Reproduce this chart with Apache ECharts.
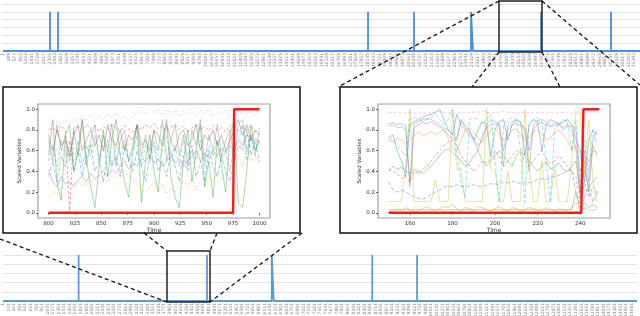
<!DOCTYPE html>
<html>
<head>
<meta charset="utf-8">
<script src="https://cdn.jsdelivr.net/npm/echarts@6.0.0/dist/echarts.min.js"></script>
<style>
    html, body { margin: 0; padding: 0; background: #fff; }
    #chart { width: 640px; height: 316px; }
</style>
</head>
<body>
<div id="chart"></div>
<script>
/**
 * 条带图 数据 (0/1 事件, 按索引区间给出)
 */
const topCount = 31680;
const topLabelStep = 288;
const topEvents = [[2337, 2337], [2735, 2735], [18153, 18153], [20440, 20440], [23275, 23374], [26757, 26757], [30238, 30238]];

const bottomCount = 14820;
const bottomLabelStep = 130;
const bottomEvents = [[1768, 1768], [4769, 4769], [6282, 6328], [8631, 8631], [9678, 9678]];

/**
 * 左侧放大图 数据 (Time 800-1000)
 */
const leftTime = [800, 804, 808, 812, 816, 820, 824, 828, 832, 836, 840, 844, 848, 852, 856, 860, 864, 868, 872, 876, 880, 884, 888, 892, 896, 900, 904, 908, 912, 916, 920, 924, 928, 932, 936, 940, 944, 948, 952, 956, 960, 964, 968, 972, 976, 980, 984, 988, 992, 996, 1000];
const leftPink = [0.85, 0.86, 0.88, 0.86, 0.9, 0.87, 0.92, 0.88, 0.93, 0.9, 0.95, 0.91, 0.94, 0.9, 0.95, 0.92, 0.96, 0.91, 0.93, 0.89, 0.94, 0.96, 0.99, 0.95, 1.0, 0.96, 0.99, 0.94, 1.0, 0.95, 0.99, 0.93, 0.98, 0.95, 1.0, 0.94, 0.99, 0.96, 1.0, 0.93, 0.98, 0.95, 0.99, 0.92, 0.97, 0.94, 0.98, 0.95, 0.97, 0.93, 0.96];
const leftRed = [0.8, 0.82, 0.78, 0.84, 0.8, 0.0, 0.82, 0.83, 0.79, 0.85, 0.81, 0.84, 0.78, 0.83, 0.8, 0.86, 0.82, 0.79, 0.84, 0.81, 0.78, 0.83, 0.8, 0.85, 0.82, 0.86, 0.81, 0.84, 0.79, 0.83, 0.85, 0.8, 0.84, 0.78, 0.82, 0.85, 0.8, 0.83, 0.79, 0.84, 0.8, 0.82, 0.78, 0.85, 0.81, 0.79, 0.83, 0.8, 0.84, 0.78, 0.82];
const leftGreen = [0.55, 0.9, 0.3, 0.12, 0.75, 0.85, 0.4, 0.6, 0.9, 0.5, 0.25, 0.05, 0.45, 0.8, 0.35, 0.7, 0.9, 0.55, 0.3, 0.15, 0.6, 0.85, 0.1, 0.5, 0.75, 0.4, 0.2, 0.7, 0.9, 0.35, 0.15, 0.05, 0.5, 0.8, 0.3, 0.6, 0.85, 0.25, 0.5, 0.15, 0.7, 0.45, 0.2, 0.75, 0.9, 0.1, 0.05, 0.4, 0.85, 0.6, 0.7];
const leftGray = [0.7, 0.5, 0.85, 0.6, 0.75, 0.5, 0.8, 0.55, 0.9, 0.45, 0.7, 0.85, 0.5, 0.75, 0.6, 0.85, 0.45, 0.7, 0.8, 0.5, 0.65, 0.85, 0.55, 0.75, 0.5, 0.8, 0.6, 0.9, 0.5, 0.7, 0.85, 0.55, 0.75, 0.45, 0.8, 0.65, 0.9, 0.5, 0.75, 0.6, 0.85, 0.55, 0.7, 0.8, 0.5, 0.85, 0.9, 0.6, 0.75, 0.55, 0.8];
const leftOlive = [0.6, 0.58, 0.62, 0.55, 0.6, 0.63, 0.58, 0.62, 0.64, 0.63, 0.65, 0.64, 0.65, 0.64, 0.66, 0.65, 0.66, 0.67, 0.65, 0.66, 0.64, 0.65, 0.63, 0.64, 0.62, 0.63, 0.61, 0.62, 0.6, 0.61, 0.6, 0.59, 0.58, 0.59, 0.57, 0.58, 0.56, 0.57, 0.55, 0.56, 0.54, 0.52, 0.55, 0.5, 0.53, 0.6, 0.7, 0.75, 0.72, 0.7, 0.68];
const leftBlue = [0.35, 0.5, 0.3, 0.55, 0.45, 0.7, 0.4, 0.6, 0.35, 0.55, 0.65, 0.4, 0.5, 0.3, 0.6, 0.45, 0.55, 0.35, 0.65, 0.5, 0.4, 0.6, 0.45, 0.3, 0.55, 0.65, 0.4, 0.5, 0.35, 0.6, 0.45, 0.3, 0.55, 0.4, 0.65, 0.35, 0.5, 0.3, 0.6, 0.45, 0.35, 0.55, 0.4, 0.3, 0.5, 0.65, 0.6, 0.8, 0.55, 0.7, 0.5];
const leftOrange = [0.15, 0.2, 0.18, 0.25, 0.22, 0.28, 0.25, 0.3, 0.27, 0.26, 0.3, 0.32, 0.28, 0.33, 0.3, 0.35, 0.33, 0.38, 0.4, 0.36, 0.33, 0.28, 0.22, 0.2, 0.25, 0.3, 0.22, 0.27, 0.18, 0.24, 0.2, 0.28, 0.3, 0.25, 0.32, 0.22, 0.3, 0.26, 0.35, 0.3, 0.38, 0.33, 0.4, 0.45, 0.5, 0.55, 0.45, 0.6, 0.5, 0.55, 0.48];
const leftPurple = [0.42, 0.3, 0.25, 0.35, 0.28, 0.3, 0.26, 0.32, 0.35, 0.3, 0.38, 0.33, 0.36, 0.4, 0.35, 0.42, 0.38, 0.45, 0.5, 0.42, 0.48, 0.45, 0.52, 0.5, 0.55, 0.48, 0.52, 0.45, 0.5, 0.55, 0.48, 0.52, 0.45, 0.5, 0.55, 0.6, 0.5, 0.58, 0.52, 0.6, 0.55, 0.62, 0.58, 0.65, 0.6, 0.7, 0.65, 0.75, 0.7, 0.72, 0.68];
const leftCyan = [0.5, 0.65, 0.45, 0.7, 0.55, 0.6, 0.5, 0.7, 0.45, 0.65, 0.55, 0.75, 0.5, 0.6, 0.7, 0.45, 0.65, 0.55, 0.7, 0.5, 0.6, 0.75, 0.45, 0.65, 0.55, 0.7, 0.5, 0.6, 0.75, 0.5, 0.65, 0.45, 0.7, 0.55, 0.6, 0.5, 0.7, 0.45, 0.65, 0.55, 0.7, 0.5, 0.6, 0.4, 0.65, 0.7, 0.85, 0.5, 0.75, 0.6, 0.7];
const leftBrown = [0.75, 0.6, 0.8, 0.65, 0.7, 0.55, 0.75, 0.85, 0.6, 0.7, 0.8, 0.65, 0.75, 0.6, 0.85, 0.7, 0.65, 0.8, 0.6, 0.75, 0.7, 0.85, 0.65, 0.7, 0.6, 0.8, 0.75, 0.65, 0.85, 0.7, 0.6, 0.75, 0.8, 0.65, 0.7, 0.85, 0.6, 0.75, 0.7, 0.8, 0.65, 0.75, 0.6, 0.7, 0.8, 0.9, 0.75, 0.85, 0.7, 0.8, 0.75];
const leftLabelTime = [800, 975, 976, 1000];
const leftLabel = [0, 0, 1, 1];

/**
 * 右侧放大图 数据 (Time 150-249)
 */
const rightTime = [150, 152, 154, 156, 158, 160, 162, 164, 166, 168, 170, 172, 174, 176, 178, 180, 182, 184, 186, 188, 190, 192, 194, 196, 198, 200, 202, 204, 206, 208, 210, 212, 214, 216, 218, 220, 222, 224, 226, 228, 230, 232, 234, 236, 238, 240, 242, 244, 246, 248];
const rightPink = [0.97, 0.97, 0.97, 0.96, 0.97, 0.97, 0.96, 0.97, 0.97, 0.97, 0.96, 0.97, 0.98, 0.97, 0.97, 0.96, 0.97, 0.97, 0.96, 0.97, 0.97, 0.97, 0.98, 0.97, 0.96, 0.97, 0.97, 0.98, 0.97, 0.97, 0.96, 0.97, 0.97, 0.97, 0.96, 0.97, 0.97, 0.97, 0.97, 0.96, 0.97, 0.97, 0.97, 0.96, 0.96, 0.96, 0.97, 0.96, 0.96, 0.96];
const rightBlue = [0.73, 0.75, 0.6, 0.5, 0.35, 0.85, 0.88, 0.9, 0.92, 0.94, 0.95, 0.97, 1.0, 0.9, 0.8, 0.75, 0.95, 0.85, 0.8, 0.75, 0.7, 0.8, 0.88, 0.85, 0.55, 0.8, 0.88, 0.9, 0.7, 0.85, 0.9, 0.88, 0.55, 0.85, 0.9, 0.88, 0.6, 0.85, 0.9, 0.88, 0.85, 0.88, 0.9, 0.85, 0.7, 0.6, 0.3, 0.7, 0.8, 0.75];
const rightPurple = [0.86, 0.87, 0.85, 0.86, 0.84, 0.3, 0.82, 0.85, 0.87, 0.86, 0.88, 0.85, 0.83, 0.8, 0.75, 0.72, 0.7, 0.88, 0.85, 0.8, 0.7, 0.6, 0.75, 0.82, 0.85, 0.86, 0.84, 0.6, 0.8, 0.85, 0.86, 0.84, 0.82, 0.6, 0.8, 0.86, 0.87, 0.85, 0.83, 0.84, 0.85, 0.8, 0.83, 0.84, 0.82, 0.2, 0.6, 0.3, 0.7, 0.8];
const rightGray = [0.84, 0.85, 0.82, 0.83, 0.8, 0.25, 0.86, 0.88, 0.9, 0.91, 0.9, 0.88, 0.85, 0.82, 0.8, 0.76, 0.72, 0.9, 0.82, 0.78, 0.72, 0.65, 0.7, 0.85, 0.9, 0.88, 0.86, 0.45, 0.84, 0.88, 0.89, 0.87, 0.8, 0.4, 0.85, 0.89, 0.9, 0.88, 0.84, 0.86, 0.87, 0.82, 0.85, 0.8, 0.6, 0.15, 0.5, 0.2, 0.65, 0.55];
const rightOrange = [0.7, 0.68, 0.72, 0.7, 0.66, 0.7, 0.75, 0.78, 0.74, 0.76, 0.78, 0.75, 0.78, 0.8, 0.72, 0.62, 0.6, 0.7, 0.8, 0.82, 0.78, 0.72, 0.68, 0.74, 0.8, 0.82, 0.76, 0.7, 0.74, 0.8, 0.81, 0.76, 0.7, 0.72, 0.78, 0.8, 0.76, 0.7, 0.72, 0.78, 0.8, 0.75, 0.7, 0.6, 0.65, 0.4, 0.55, 0.5, 0.6, 0.58];
const rightRed = [0.42, 0.4, 0.38, 0.33, 0.35, 0.3, 0.4, 0.38, 0.42, 0.45, 0.5, 0.55, 0.6, 0.65, 0.68, 0.7, 0.65, 0.55, 0.5, 0.45, 0.4, 0.45, 0.5, 0.48, 0.52, 0.6, 0.55, 0.45, 0.5, 0.55, 0.6, 0.58, 0.5, 0.45, 0.5, 0.55, 0.6, 0.52, 0.48, 0.5, 0.55, 0.5, 0.45, 0.4, 0.35, 0.1, 0.3, 0.15, 0.25, 0.2];
const rightGreen = [0.4, 0.45, 0.42, 0.44, 0.4, 0.38, 0.42, 0.4, 0.38, 0.42, 0.45, 0.5, 0.55, 0.6, 0.62, 0.58, 0.55, 0.5, 0.45, 0.48, 0.55, 0.6, 0.5, 0.45, 0.5, 0.55, 0.6, 0.55, 0.5, 0.45, 0.55, 0.6, 0.55, 0.5, 0.45, 0.4, 0.45, 0.5, 0.42, 0.45, 0.48, 0.42, 0.4, 0.45, 0.5, 0.2, 0.4, 0.25, 0.3, 0.35];
const rightOlive = [0.11, 0.11, 0.11, 0.11, 0.45, 1.0, 0.11, 0.11, 0.11, 0.11, 0.11, 0.32, 0.11, 0.11, 0.11, 1.0, 0.42, 0.42, 0.11, 0.11, 0.11, 0.11, 0.11, 1.0, 0.42, 0.4, 0.11, 0.11, 0.4, 0.11, 0.11, 0.11, 1.0, 0.45, 0.11, 0.11, 0.5, 0.11, 0.11, 0.45, 0.11, 0.11, 0.11, 0.5, 1.0, 0.95, 0.4, 0.9, 0.3, 0.1];
const rightBlueLow = [0.3, 0.22, 0.2, 0.22, 0.2, 0.18, 0.15, 0.14, 0.13, 0.15, 0.18, 0.2, 0.22, 0.25, 0.26, 0.25, 0.27, 0.26, 0.25, 0.26, 0.27, 0.26, 0.25, 0.27, 0.28, 0.28, 0.27, 0.3, 0.29, 0.3, 0.3, 0.28, 0.3, 0.29, 0.3, 0.32, 0.33, 0.32, 0.34, 0.35, 0.36, 0.38, 0.4, 0.42, 0.2, 0.05, 0.15, 0.25, 0.1, 0.2];
const rightTeal = [0.03, 0.03, 0.025, 0.03, 0.03, 0.025, 0.03, 0.03, 0.03, 0.025, 0.03, 0.03, 0.03, 0.025, 0.03, 0.03, 0.03, 0.025, 0.03, 0.03, 0.025, 0.03, 0.03, 0.03, 0.025, 0.03, 0.03, 0.03, 0.025, 0.03, 0.03, 0.03, 0.025, 0.03, 0.03, 0.03, 0.025, 0.03, 0.03, 0.03, 0.025, 0.03, 0.03, 0.03, 0.2, 0.05, 0.1, 0.05, 0.08, 0.05];
const rightOrangeLow = [0.01, 0.02, 0.04, 0.02, 0.05, 0.03, 0.01, 0.02, 0.04, 0.06, 0.03, 0.02, 0.04, 0.06, 0.05, 0.08, 0.04, 0.02, 0.05, 0.04, 0.02, 0.06, 0.05, 0.03, 0.02, 0.04, 0.06, 0.03, 0.02, 0.05, 0.04, 0.02, 0.03, 0.05, 0.04, 0.02, 0.03, 0.05, 0.03, 0.02, 0.04, 0.03, 0.02, 0.05, 0.1, 0.02, 0.05, 0.03, 0.02, 0.04];
const rightCyan = [0.72, 0.7, 0.65, 0.6, 0.55, 0.9, 0.92, 0.9, 0.88, 0.9, 0.92, 0.95, 0.9, 0.85, 0.9, 1.0, 0.6, 0.3, 0.15, 0.9, 0.92, 0.9, 0.85, 0.9, 0.95, 0.5, 0.1, 0.85, 0.9, 0.92, 0.9, 0.6, 0.1, 0.85, 0.9, 0.92, 0.88, 0.5, 0.1, 0.8, 0.85, 0.9, 0.88, 0.6, 0.9, 0.3, 0.7, 0.4, 0.8, 0.65];
const rightLabelTime = [150, 240.5, 241.5, 249];
const rightLabel = [0, 0, 1, 1];

const leftTicks = [800, 825, 850, 875, 900, 925, 950, 975, 1000];
const rightTicks = [160, 180, 200, 220, 240];
const yTicks = [0, 0.2, 0.4, 0.6, 0.8, 1.0];

const FONT = 'DejaVu Sans';

/**
 * 条带图: 类目 1..count, 事件区间 -> 折线拐点 [类目索引, 值]
 */
function buildStrip(count, events) {
    const cats = [];
    for (let i = 0; i < count; i++) {
        cats.push(String(i + 1));
    }
    const points = [[0, 0]];
    events.forEach(ev => {
        points.push([ev[0], 0], [ev[0], 1], [ev[1], 1], [ev[1], 0]);
    });
    points.push([count - 1, 0]);
    return { cats, points };
}
const topStrip = buildStrip(topCount, topEvents);
const bottomStrip = buildStrip(bottomCount, bottomEvents);

function stripX(gridIndex, cats, step) {
    return {
        type: 'category',
        gridIndex: gridIndex,
        data: cats,
        boundaryGap: false,
        axisLine: { show: false },
        axisTick: { show: false },
        splitLine: { show: false },
        axisLabel: {
            interval: step - 1,
            rotate: 90,
            fontSize: 4.5,
            color: '#8c8c8c',
            margin: 2,
            fontFamily: FONT
        }
    };
}
function stripY(gridIndex, max) {
    return {
        type: 'value',
        gridIndex: gridIndex,
        min: 0,
        max: max,
        interval: 0.2,
        axisLabel: { show: false },
        axisLine: { show: false },
        axisTick: { show: false },
        splitLine: { lineStyle: { color: '#e4e4e4', width: 1 } }
    };
}
function stripSeries(axisIndex, points, color) {
    return {
        type: 'line',
        xAxisIndex: axisIndex,
        yAxisIndex: axisIndex,
        data: points,
        showSymbol: false,
        silent: true,
        lineStyle: { color: color, width: 1.8, join: 'bevel', cap: 'butt' }
    };
}

function insetX(gridIndex, min, max, ticks) {
    return {
        type: 'value',
        gridIndex: gridIndex,
        min: min,
        max: max,
        axisLine: { show: false },
        splitLine: { show: false },
        axisTick: { show: true, customValues: ticks, length: 2, lineStyle: { color: '#444', width: 0.8 } },
        axisLabel: {
            customValues: ticks, fontSize: 5.5, color: '#333', margin: 3, fontFamily: FONT,
            formatter: v => String(v)
        },
        name: 'Time',
        nameLocation: 'middle',
        nameGap: 9,
        nameTextStyle: { fontSize: 6, color: '#333', fontFamily: FONT }
    };
}
function insetY(gridIndex) {
    return {
        type: 'value',
        gridIndex: gridIndex,
        min: -0.05,
        max: 1.05,
        axisLine: { show: false },
        splitLine: { show: false },
        axisTick: { show: true, customValues: yTicks, length: 2, lineStyle: { color: '#444', width: 0.8 } },
        axisLabel: {
            customValues: yTicks, fontSize: 5.5, color: '#333', margin: 3, fontFamily: FONT,
            formatter: v => v.toFixed(1)
        },
        name: 'Scaled Variables',
        nameLocation: 'middle',
        nameGap: 15,
        nameTextStyle: { fontSize: 5.5, color: '#333', fontFamily: FONT }
    };
}

function thin(axisIndex, times, values, color, dash) {
    return {
        type: 'line',
        xAxisIndex: axisIndex,
        yAxisIndex: axisIndex,
        data: times.map((t, i) => [t, values[i]]),
        showSymbol: false,
        silent: true,
        lineStyle: { color: color, width: 0.8, opacity: 0.5, type: dash || 'solid' },
        z: 3
    };
}
function labelLine(axisIndex, times, values) {
    return {
        type: 'line',
        xAxisIndex: axisIndex,
        yAxisIndex: axisIndex,
        data: times.map((t, i) => [t, values[i]]),
        showSymbol: false,
        silent: true,
        lineStyle: { color: '#ff1a1a', width: 2.4 },
        z: 5
    };
}

const dashStyle = { stroke: '#111', lineWidth: 1.3, lineDash: [4, 3] };
function dashLine(x1, y1, x2, y2) {
    return { type: 'line', z: 100, silent: true, shape: { x1, y1, x2, y2 }, style: dashStyle };
}
function box(x, y, w, h, color) {
    return { type: 'rect', z: 100, silent: true, shape: { x: x, y: y, width: w, height: h }, style: { fill: 'none', stroke: color, lineWidth: 1.5 } };
}

const option = {
    animation: false,
    backgroundColor: '#fff',
    grid: [
        { left: 3, top: 4, width: 637, height: 47, outerBoundsMode: 'none' },
        { left: 38, top: 104, width: 232, height: 114, show: true, borderColor: '#a0a0a0', borderWidth: 1.2, backgroundColor: '#fff', outerBoundsMode: 'none' },
        { left: 378, top: 104, width: 232, height: 114, show: true, borderColor: '#a0a0a0', borderWidth: 1.2, backgroundColor: '#fff', outerBoundsMode: 'none' },
        { left: 3, top: 255, width: 634, height: 46, outerBoundsMode: 'none' }
    ],
    xAxis: [
        stripX(0, topStrip.cats, topLabelStep),
        insetX(1, 790, 1010, leftTicks),
        insetX(2, 145, 254, rightTicks),
        stripX(3, bottomStrip.cats, bottomLabelStep)
    ],
    yAxis: [
        stripY(0, 1.2),
        insetY(1),
        insetY(2),
        stripY(3, 1.0)
    ],
    series: [
        stripSeries(0, topStrip.points, '#4a8fd8'),
        stripSeries(3, bottomStrip.points, '#5b9bd5'),
        thin(1, leftTime, leftPink, '#e377c2', [2, 2]),
        thin(1, leftTime, leftRed, '#d62728', [3, 2]),
        thin(1, leftTime, leftGreen, '#2ca02c'),
        thin(1, leftTime, leftGray, '#7f7f7f'),
        thin(1, leftTime, leftOlive, '#bcbd22', [3, 2]),
        thin(1, leftTime, leftBlue, '#1f77b4', [4, 2]),
        thin(1, leftTime, leftOrange, '#ff7f0e', [2, 2]),
        thin(1, leftTime, leftPurple, '#9467bd'),
        thin(1, leftTime, leftCyan, '#17becf', [4, 2]),
        thin(1, leftTime, leftBrown, '#8c564b'),
        labelLine(1, leftLabelTime, leftLabel),
        thin(2, rightTime, rightPink, '#e377c2', [3, 2]),
        thin(2, rightTime, rightBlue, '#1f77b4'),
        thin(2, rightTime, rightPurple, '#9467bd'),
        thin(2, rightTime, rightGray, '#7f7f7f'),
        thin(2, rightTime, rightOrange, '#ff7f0e'),
        thin(2, rightTime, rightRed, '#d62728', [3, 2]),
        thin(2, rightTime, rightGreen, '#2ca02c'),
        thin(2, rightTime, rightOlive, '#bcbd22'),
        thin(2, rightTime, rightBlueLow, '#1f77b4', [4, 2]),
        thin(2, rightTime, rightTeal, '#2ca02c'),
        thin(2, rightTime, rightOrangeLow, '#ff7f0e'),
        thin(2, rightTime, rightCyan, '#17becf', [4, 2]),
        labelLine(2, rightLabelTime, rightLabel)
    ],
    graphic: [
        box(499, 1, 43, 51, '#222'),
        box(167, 251, 43, 51, '#222'),
        box(3, 87, 297, 146, '#111'),
        box(340, 87, 297, 146, '#111'),
        dashLine(499, 1, 338, 87),
        dashLine(499, 52, 472, 87),
        dashLine(542, 52, 560, 87),
        dashLine(542, 1, 640, 85),
        dashLine(0, 239, 167, 302),
        dashLine(144, 233, 167, 251),
        dashLine(217, 233, 210, 251),
        dashLine(302, 233, 210, 302)
    ]
};

const chart = echarts.init(document.getElementById('chart'));
chart.setOption(option);
</script>
</body>
</html>
